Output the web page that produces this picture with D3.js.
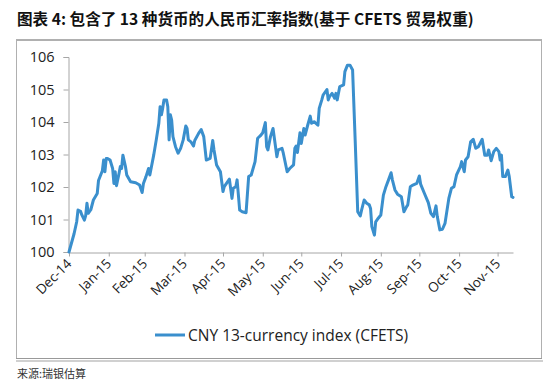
<!DOCTYPE html>
<html><head><meta charset="utf-8">
<script src="https://cdn.jsdelivr.net/npm/d3@7"></script>
<style>
html,body{margin:0;padding:0;background:#fff;}
svg{display:block;}
</style></head>
<body>
<script>
// ---- data ----
const titleText = "图表 4: 包含了 13 种货币的人民币汇率指数(基于 CFETS 贸易权重)";
const sourceText = "来源:瑞银估算";
const seriesName = "CNY 13-currency index (CFETS)";
const baseDate = "2014-12-31";
// days since 2014-12-31
const dayOffsets = [0,4,6,7,9,10,12,13,14,15,17,19,22,23,24,26,27,28,29,30,32,34,35,36,37,39,40,41,42,44,45,48,52,55,57,58,60,62,63,66,68,70,71,72,73,74,76,77,78,79,80,81,83,85,87,89,91,92,93,95,97,98,101,103,105,107,110,112,113,115,118,120,121,125,127,128,130,131,133,135,138,140,142,145,147,149,151,153,154,155,157,159,162,163,166,167,170,172,175,176,177,178,180,181,183,184,186,188,189,191,194,195,197,198,201,202,203,205,207,208,209,211,214,215,217,219,221,223,225,227,228,230,232,234,235,236,238,239,241,243,245,247,249,251,252,254,256,259,261,263,264,266,268,271,273,274,277,280,282,284,286,287,289,291,293,296,298,300,302,305,306,308,309,311,313,315,317,319,322,324,326,327,329,331,333,335,336,337,338,340,342,343,345,346];
const indexValues = [100.00,100.57,100.93,101.29,101.25,101.14,100.98,101.12,101.50,101.19,101.30,101.60,101.80,102.20,102.30,102.50,102.83,102.47,102.88,102.88,102.83,102.57,102.11,102.47,102.04,102.42,102.63,102.57,102.98,102.63,102.37,102.16,102.13,102.06,101.83,102.11,102.32,102.57,102.37,102.98,103.45,103.96,104.47,104.22,104.42,104.68,104.68,104.47,103.45,104.22,104.06,103.55,103.24,103.04,103.19,103.45,103.88,103.80,103.45,103.39,103.26,103.43,103.65,103.77,103.55,102.83,102.88,103.43,103.14,102.68,102.47,101.86,102.01,102.24,101.65,101.96,102.01,102.22,101.29,101.24,101.21,102.32,102.37,102.78,103.50,103.57,103.67,103.98,103.24,103.14,103.55,103.80,102.93,103.14,103.19,103.04,102.47,102.57,102.68,103.19,103.26,103.06,103.67,103.34,103.80,103.60,103.90,104.18,103.96,104.01,103.90,104.42,104.68,104.83,105.00,104.68,104.78,104.88,104.73,104.88,104.68,105.09,105.14,105.55,105.75,105.75,105.60,103.45,101.24,101.11,101.29,101.60,101.50,101.45,101.34,100.78,100.52,100.93,101.04,101.14,101.75,102.01,102.22,102.44,102.22,101.91,101.78,101.70,101.24,101.39,101.45,102.01,102.06,102.11,102.34,102.09,101.80,101.52,101.19,101.09,101.42,101.09,100.68,100.70,100.88,101.65,101.96,102.01,102.37,102.63,102.78,102.47,102.83,102.93,103.39,103.47,103.19,103.24,103.47,102.98,102.98,103.14,102.81,103.09,103.19,103.09,102.83,102.98,102.32,102.32,102.52,102.34,101.70,101.68];
const xTickDates = ["2014-12-31","2015-01-31","2015-02-28","2015-03-31","2015-04-30","2015-05-31","2015-06-30","2015-07-31","2015-08-31","2015-09-30","2015-10-31","2015-11-30"];
const xTickLabels = ["Dec-14","Jan-15","Feb-15","Mar-15","Apr-15","May-15","Jun-15","Jul-15","Aug-15","Sep-15","Oct-15","Nov-15"];
const yTicks = [100,101,102,103,104,105,106];

// ---- drawing ----
const W = 550, H = 390;
const parse = d3.utcParse("%Y-%m-%d");
const base = parse(baseDate);
const data = dayOffsets.map((d,i)=>({date:d3.utcDay.offset(base,d), v:indexValues[i]}));

const svg = d3.select("body").append("svg").attr("width",W).attr("height",H);

// title
svg.append("text").attr("x",17).attr("y",24.5)
  .attr("font-family","'Noto Sans CJK SC', 'Noto Sans', sans-serif")
  .attr("font-weight","bold").attr("font-size",15.6).attr("fill","#111")
  .text(titleText);

// frame
svg.append("line").attr("x1",16).attr("x2",542).attr("y1",40).attr("y2",40)
  .attr("stroke","#b0b0b0").attr("stroke-width",2);
svg.append("line").attr("x1",16.5).attr("x2",16.5).attr("y1",40).attr("y2",359)
  .attr("stroke","#b0b0b0").attr("stroke-width",1);
svg.append("line").attr("x1",541.5).attr("x2",541.5).attr("y1",40).attr("y2",359)
  .attr("stroke","#b0b0b0").attr("stroke-width",1);
svg.append("line").attr("x1",16).attr("x2",542).attr("y1",358.5).attr("y2",358.5)
  .attr("stroke","#999").attr("stroke-width",1);
svg.append("line").attr("x1",16).attr("x2",543).attr("y1",361).attr("y2",361)
  .attr("stroke","#d0d0d0").attr("stroke-width",2);

// source
svg.append("text").attr("x",17).attr("y",378)
  .attr("font-family","'Noto Sans CJK SC', sans-serif")
  .attr("font-size",11).attr("fill","#333").text(sourceText);

const x = d3.scaleUtc().domain([base, d3.utcDay.offset(base,346)]).range([69,513]);
const y = d3.scaleLinear().domain([100,106]).range([252,57]);

const axisColor = "#a6a6a6";
const font = "'Open Sans', sans-serif";

// y axis
const yAxis = svg.append("g").attr("transform","translate(68.5,0)")
  .call(d3.axisLeft(y).tickValues(yTicks).tickFormat(d3.format("d")).tickSize(5).tickPadding(9));
yAxis.select(".domain").attr("stroke",axisColor);
yAxis.selectAll(".tick line").attr("stroke",axisColor);
yAxis.selectAll("text").attr("font-family",font).attr("font-size",14.5).attr("fill","#222");

// x axis
const xAxis = svg.append("g").attr("transform","translate(0,252.5)")
  .call(d3.axisBottom(x).tickValues(xTickDates.map(parse))
    .tickFormat((d,i)=>xTickLabels[i]).tickSize(4).tickSizeOuter(0));
xAxis.select(".domain").attr("stroke",axisColor);
xAxis.selectAll(".tick line").attr("stroke",axisColor);
xAxis.selectAll("text").attr("font-family",font).attr("font-size",13.5).attr("fill","#222")
  .attr("text-anchor","end").attr("dy",null).attr("y",0)
  .attr("transform","translate(3,12) rotate(-45)");

// line
svg.append("path").datum(data)
  .attr("fill","none").attr("stroke","#3a8fcd").attr("stroke-width",3)
  .attr("stroke-linejoin","round").attr("stroke-linecap","round")
  .attr("d", d3.line().x(d=>x(d.date)).y(d=>y(d.v)));

// legend
const lg = svg.append("g");
lg.append("line").attr("x1",155).attr("x2",185).attr("y1",335).attr("y2",335)
  .attr("stroke","#3a8fcd").attr("stroke-width",3);
lg.append("text").attr("x",188).attr("y",340.5).attr("font-family",font)
  .attr("font-size",15.5).attr("fill","#222").text(seriesName);
</script>
</body></html>
